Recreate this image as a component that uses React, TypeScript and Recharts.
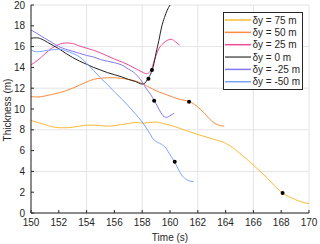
import React from "react";
import { LineChart, Line, XAxis, YAxis, CartesianGrid, Legend } from "recharts";

// time (s) / thickness (m) per lateral offset
const t75 = [150, 150.5, 151, 151.5, 152, 152.5, 153, 153.5, 154, 154.5, 155, 155.5, 156, 156.5, 157, 157.5, 158, 158.5, 159, 159.5, 160, 161, 162, 163, 164, 164.5, 165, 165.5, 166, 166.5, 167, 167.5, 168, 168.5, 169, 169.5, 170];
const v75 = [8.9, 8.7, 8.5, 8.3, 8.2, 8.2, 8.25, 8.35, 8.45, 8.45, 8.4, 8.35, 8.4, 8.5, 8.6, 8.7, 8.65, 8.7, 8.75, 8.6, 8.45, 8.0, 7.55, 7.15, 6.7, 6.3, 5.75, 5.2, 4.6, 4.0, 3.35, 2.65, 2.0, 1.6, 1.3, 1.05, 0.9];

const t50 = [150, 150.5, 151, 151.5, 152, 152.5, 153, 153.5, 154, 154.5, 155, 155.5, 156, 156.5, 157, 157.5, 158, 158.5, 159, 159.5, 160, 160.5, 161, 161.5, 162, 162.5, 163, 163.5, 163.9];
const v50 = [11.2, 11.15, 11.25, 11.4, 11.55, 11.75, 12.0, 12.3, 12.6, 12.85, 12.95, 13.0, 13.0, 12.95, 12.85, 12.7, 12.45, 12.1, 11.75, 11.5, 11.25, 11.0, 10.85, 10.65, 10.2, 9.55, 8.85, 8.45, 8.35];

const t25 = [150, 150.5, 151, 151.5, 152, 152.5, 153, 153.5, 154, 154.5, 155, 155.5, 156, 156.5, 157, 157.5, 158, 158.3, 158.6, 158.9, 159.2, 159.5, 159.8, 160.1, 160.4, 160.7];
const v25 = [14.25, 14.7, 15.3, 15.85, 16.2, 16.35, 16.3, 16.05, 15.85, 15.65, 15.4, 15.1, 14.8, 14.55, 14.25, 13.9, 13.55, 13.4, 13.65, 14.8, 15.8, 16.3, 16.6, 16.7, 16.45, 16.15];

const t0 = [150, 150.4, 150.8, 151.2, 151.6, 152, 152.5, 153, 153.5, 154, 154.5, 155, 155.5, 156, 156.5, 157, 157.5, 158, 158.2, 158.4, 158.6, 158.8, 159, 159.2, 159.4, 159.6, 159.8, 160];
const v0 = [16.8, 16.85, 16.7, 16.4, 16.1, 15.8, 15.35, 14.95, 14.6, 14.3, 14.0, 13.75, 13.5, 13.3, 13.1, 12.85, 12.65, 12.4, 12.5, 12.9, 13.35, 14.1, 15.4, 16.6, 17.9, 18.8, 19.5, 20.0];

const tm25 = [150, 150.5, 151, 151.5, 152, 152.5, 153, 153.5, 154, 154.5, 155, 155.5, 156, 156.5, 157, 157.5, 158, 158.3, 158.6, 158.9, 159.2, 159.5, 159.75, 160, 160.3];
const vm25 = [17.6, 17.2, 16.8, 16.4, 16.0, 15.75, 15.55, 15.35, 15.15, 15.0, 14.75, 14.6, 14.45, 14.25, 13.85, 13.4, 12.6, 11.95, 11.4, 10.75, 10.0, 9.35, 9.2, 9.35, 9.6];

const tm50 = [150, 150.4, 150.8, 151.2, 151.6, 152, 152.5, 153, 153.5, 154, 154.5, 155, 155.5, 156, 156.5, 157, 157.5, 158, 158.5, 158.8, 159.1, 159.4, 159.7, 160, 160.3, 160.6, 160.9, 161.2, 161.5, 161.7];
const vm50 = [15.7, 15.5, 15.55, 15.65, 15.7, 15.75, 15.6, 15.35, 15.0, 14.4, 13.7, 13.0, 12.35, 11.65, 11.0, 10.3, 9.55, 8.75, 7.75, 7.1, 6.8, 6.6, 6.25, 5.6, 5.0, 4.2, 3.55, 3.2, 3.05, 3.0];

// event markers
const markT = [158.45, 158.7, 158.86, 161.37, 160.34, 168.1];
const markV = [12.9, 13.75, 10.8, 10.7, 4.93, 1.92];

const xTicks = [150, 152, 154, 156, 158, 160, 162, 164, 166, 168, 170];
const yTicks = [0, 2, 4, 6, 8, 10, 12, 14, 16, 18, 20];

const zip = (ts: number[], vs: number[]) => ts.map((t, i) => ({ t, v: vs[i] }));

const series = [
  { name: "\u03b4y = 75 m", color: "#FDBA35", data: zip(t75, v75) },
  { name: "\u03b4y = 50 m", color: "#FF8A3D", data: zip(t50, v50) },
  { name: "\u03b4y = 25 m", color: "#EC4C98", data: zip(t25, v25) },
  { name: "\u03b4y = 0 m", color: "#222222", data: zip(t0, v0) },
  { name: "\u03b4y = -25 m", color: "#8578F5", data: zip(tm25, vm25) },
  { name: "\u03b4y = -50 m", color: "#7BA4FF", data: zip(tm50, vm50) },
];
const markers = zip(markT, markV);

const FONT = "'Liberation Sans', Arial, Helvetica, sans-serif";
const AX = "#262626";

const LegendBox = () => (
  <svg width={80} height={78} style={{ display: "block" }}>
    <rect x={0.5} y={0.5} width={79} height={77} fill="#fff" stroke={AX} strokeWidth={1} />
    {series.map((s, i) => {
      const y = 8 + i * 12.35;
      return (
        <g key={s.name}>
          <line x1={2} x2={28} y1={y} y2={y} stroke={s.color} strokeWidth={1.5} strokeOpacity={s.color === "#222222" ? 0.75 : 1} />
          <text x={29.5} y={y} dominantBaseline="central" fontSize={10} fontFamily={FONT} fill={AX}>
            {s.name}
          </text>
        </g>
      );
    })}
  </svg>
);

export default function App() {
  return (
    <div style={{ position: "absolute", left: 0, top: 0 }}>
      <LineChart width={320} height={244} margin={{ top: 5, right: 11, left: 0, bottom: 0 }}>
        <CartesianGrid stroke="#E4E4E4" strokeWidth={1} />
        <XAxis
          type="number"
          dataKey="t"
          domain={[150, 170]}
          ticks={xTicks}
          allowDataOverflow
          height={31}
          stroke={AX}
          tickSize={-3}
          tickMargin={9}
          tick={{ fontSize: 10, fontFamily: FONT, fill: AX }}
          label={() => (
            <text x={170} y={237} textAnchor="middle" dominantBaseline="central" fontSize={10} fontFamily={FONT} fill={AX}>
              Time (s)
            </text>
          )}
        />
        <XAxis
          xAxisId="top"
          orientation="top"
          type="number"
          dataKey="t"
          domain={[150, 170]}
          ticks={xTicks}
          allowDataOverflow
          height={0}
          stroke={AX}
          tickSize={-3}
          tickFormatter={() => ""}
        />
        <YAxis
          type="number"
          dataKey="v"
          domain={[0, 20]}
          ticks={yTicks}
          allowDataOverflow
          width={31}
          stroke={AX}
          tickSize={-3}
          tickMargin={9}
          tick={{ fontSize: 10, fontFamily: FONT, fill: AX }}
          label={() => (
            <text x={7} y={110} transform="rotate(-90 7 110)" textAnchor="middle" dominantBaseline="central" fontSize={10} fontFamily={FONT} fill={AX}>
              Thickness (m)
            </text>
          )}
        />
        <YAxis
          yAxisId="right"
          orientation="right"
          type="number"
          dataKey="v"
          domain={[0, 20]}
          ticks={yTicks}
          allowDataOverflow
          width={0}
          stroke={AX}
          tickSize={-3}
          tickFormatter={() => ""}
        />
        {series.map((s) => (
          <Line
            key={s.name}
            data={s.data}
            dataKey="v"
            name={s.name}
            type="monotone"
            stroke={s.color}
            strokeWidth={1}
            dot={false}
            activeDot={false}
            isAnimationActive={false}
          />
        ))}
        <Line
          data={markers}
          dataKey="v"
          name="markers"
          stroke="none"
          legendType="none"
          dot={{ r: 2, fill: "#000", stroke: "#000", strokeWidth: 0 }}
          activeDot={false}
          isAnimationActive={false}
        />
        <Legend
          layout="vertical"
          verticalAlign="middle"
          align="center"
          content={() => <LegendBox />}
          wrapperStyle={{ left: 223, top: 12, width: 80, height: 78 }}
        />
      </LineChart>
    </div>
  );
}
